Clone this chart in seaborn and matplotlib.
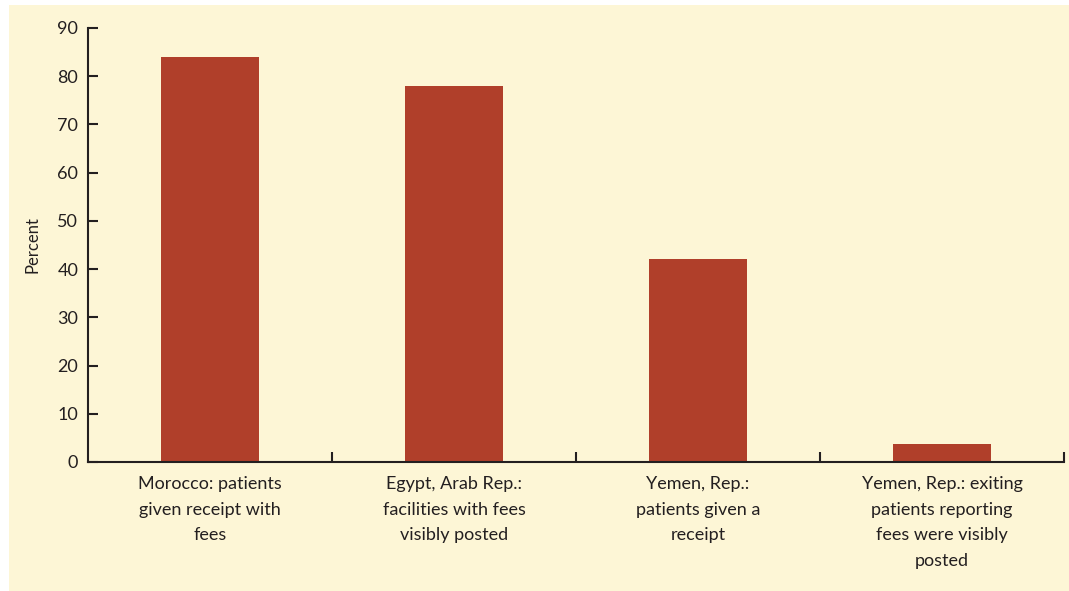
import numpy as np
import matplotlib.pyplot as plt
import seaborn as sns
import pandas as pd
from matplotlib.patches import Rectangle

# values

labels = ['Morocco: patients\ngiven receipt with\nfees',
          'Egypt, Arab Rep.:\nfacilities with fees\nvisibly posted',
          'Yemen, Rep.:\npatients given a\nreceipt',
          'Yemen, Rep.: exiting\npatients reporting\nfees were visibly\nposted']
percent = [84, 78, 42, 3.7]
yticks = [0, 10, 20, 30, 40, 50, 60, 70, 80, 90]

df = pd.DataFrame({'label': labels, 'percent': percent})

cream = '#FDF6D6'
bar_color = '#B03F2A'
text_color = '#231F20'

sns.set_style('ticks')
plt.rcParams['font.family'] = ['Lato', 'DejaVu Sans']

fig = plt.figure(figsize=(10.69, 5.91), dpi=100, facecolor='white')

# cream panel behind the chart (white strip on left and top)
fig.patches.append(Rectangle((9 / 1069, 0), 1, 1 - 5 / 591, transform=fig.transFigure,
                             facecolor=cream, edgecolor='none', zorder=-1))

ax = fig.add_axes([88 / 1069, 1 - 462 / 591, (1064 - 88) / 1069, (462 - 28) / 591])
ax.patch.set_alpha(0)

sns.barplot(data=df, x='label', y='percent', color=bar_color, saturation=1,
            width=0.4, linewidth=0, ax=ax)

ax.set_xlim(-0.5, 3.5)
ax.set_ylim(0, 90)
ax.set_yticks(yticks)
ax.set_xticks(range(len(labels)))
ax.set_xticklabels(labels, fontsize=13, color=text_color, linespacing=1.75)
ax.set_xticks([0.5, 1.5, 2.5, 3.5], minor=True)

ax.tick_params(axis='x', which='major', length=0, pad=10)
ax.tick_params(axis='x', which='minor', direction='in', length=7, width=1.5, color=text_color)
ax.tick_params(axis='y', direction='in', length=7, width=1.5, color=text_color,
               labelsize=13, labelcolor=text_color, pad=7)

ax.set_xlabel('')
ax.set_ylabel('Percent', fontsize=12, color=text_color, labelpad=12)

sns.despine(ax=ax)
for side in ['left', 'bottom']:
    ax.spines[side].set_linewidth(1.5)
    ax.spines[side].set_color(text_color)

plt.savefig('out.png', dpi=100, facecolor='white')
